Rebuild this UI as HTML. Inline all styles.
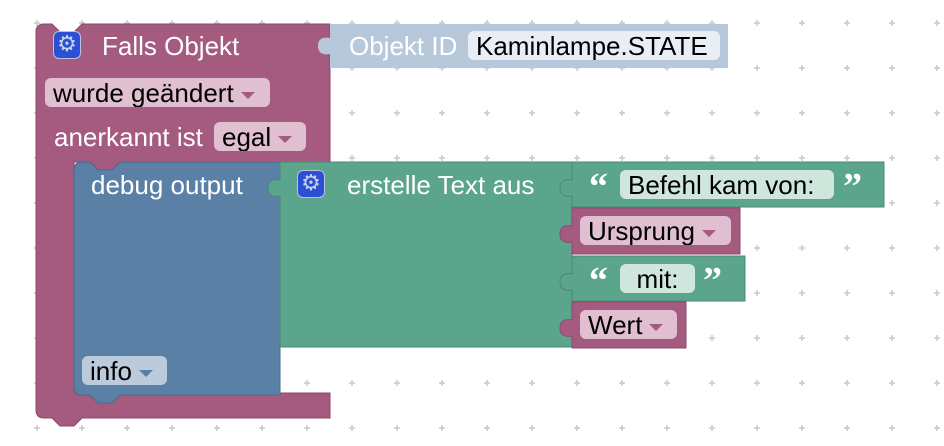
<!DOCTYPE html><html><head><meta charset="utf-8"><style>
body{margin:0;width:944px;height:446px;background:#fff;position:relative;overflow:hidden;font-family:"Liberation Sans",sans-serif;font-size:26px}
.a{position:absolute;box-sizing:border-box}
.t{position:absolute;color:#fff;white-space:nowrap;line-height:28px}
.f{position:absolute;border-radius:6px;color:#000;padding:0 8px;line-height:30px;height:29px;white-space:nowrap;box-sizing:border-box;overflow:hidden}
.dd::after{content:"";display:inline-block;margin-left:7px;vertical-align:middle;border-left:7px solid transparent;border-right:7px solid transparent;border-top:7px solid #a55b80}
.gear{position:absolute;width:28px;height:28px;border-radius:6px;background:#2d4fd6;border:1.5px solid #b5c4e4;box-sizing:border-box;color:#c5d4ea;text-align:center;line-height:25px;font-size:22px;font-family:"DejaVu Sans",sans-serif}
.q{position:absolute;color:#fff;font-family:"Liberation Serif",serif;font-weight:bold;font-size:38px;line-height:30px}
</style></head><body>
<svg class="a" style="left:0;top:0" width="944" height="446">
<defs><pattern id="g" x="34" y="20" width="45" height="45" patternUnits="userSpaceOnUse"><path d="M0 3h6M3 0v6" stroke="#c8c8c8" stroke-width="1.5"/></pattern></defs>
<rect width="944" height="446" fill="url(#g)"/>
<path d="M44 24 H52 L60 32 H74 L82 24 H330 V162 H120 L112 170 H98 L90 162 H74 V393 H330 V418 H82 L74 426 H60 L52 418 H44 Q36 418 36 410 V32 Q36 24 44 24Z" fill="#a55b80" stroke="#8a4a6b" stroke-width="1"/>
<path d="M330 24 H728 V68 H330 V54 Q318 56 318 46 Q318 36 330 38Z" fill="#b7c8da"/>
<path d="M82 162 H90 L98 170 H112 L120 162 H280 V395 H120 L112 403 H98 L90 395 H82 Q74 395 74 387 V170 Q74 162 82 162Z" fill="#5b80a5" stroke="#4a6a8a" stroke-width="1"/>
<path d="M280 162 H572 V347 H280 V196 Q268 198 268 188 Q268 178 280 180Z" fill="#5ba58c" stroke="#4a8a74" stroke-width="1"/>
<path d="M572 162 H884 V207 H572 V196 Q560 198 560 188 Q560 178 572 180Z" fill="#5ba58c" stroke="#4a8a74" stroke-width="1"/>
<path d="M572 208 H740 V254 H572 V242 Q560 244 560 234 Q560 224 572 226Z" fill="#a55b80" stroke="#8a4a6b" stroke-width="1"/>
<path d="M572 256 H745 V301 H572 V290 Q560 292 560 282 Q560 272 572 274Z" fill="#5ba58c" stroke="#4a8a74" stroke-width="1"/>
<path d="M572 302 H686 V348 H572 V336 Q560 338 560 328 Q560 318 572 320Z" fill="#a55b80" stroke="#8a4a6b" stroke-width="1"/>
</svg>
<div class="gear" style="top:31px;left:53px">⚙</div>
<div class="t" style="left:102px;top:32px">Falls Objekt</div>
<div class="t" style="left:349px;top:32px">Objekt ID</div>
<div class="f" style="left:468px;top:31px;background:#e8eef4;width:252px">Kaminlampe.STATE</div>
<div class="f dd" style="left:45px;top:78px;background:#dfbfd0;width:225px">wurde geändert</div>
<div class="t" style="left:54px;top:123px">anerkannt ist</div>
<div class="f dd" style="left:214px;top:122px;background:#dfbfd0;width:92px">egal</div>
<div class="t" style="left:91px;top:171px">debug output</div>
<div class="gear" style="left:297px;top:170px">⚙</div>
<div class="t" style="left:347px;top:171px">erstelle Text aus</div>
<div class="q" style="left:589px;top:172px">“</div>
<div class="f" style="left:620px;top:170px;background:#cfe6dc;width:214px">Befehl kam von:</div>
<div class="q" style="left:843px;top:172px">”</div>
<div class="f dd" style="left:580px;top:216px;background:#dfbfd0;width:151px">Ursprung</div>
<div class="q" style="left:589px;top:266px">“</div>
<div class="f" style="left:620px;top:264px;background:#cfe6dc;width:75px;text-align:center">mit:</div>
<div class="q" style="left:703px;top:266px">”</div>
<div class="f dd" style="left:580px;top:310px;background:#dfbfd0;width:97px">Wert</div>
<div class="f dd info" style="left:82px;top:356px;background:#bccbdb;width:85px">info</div>
<style>.info::after{border-top-color:#5b80a5 !important}</style>
</body></html>
